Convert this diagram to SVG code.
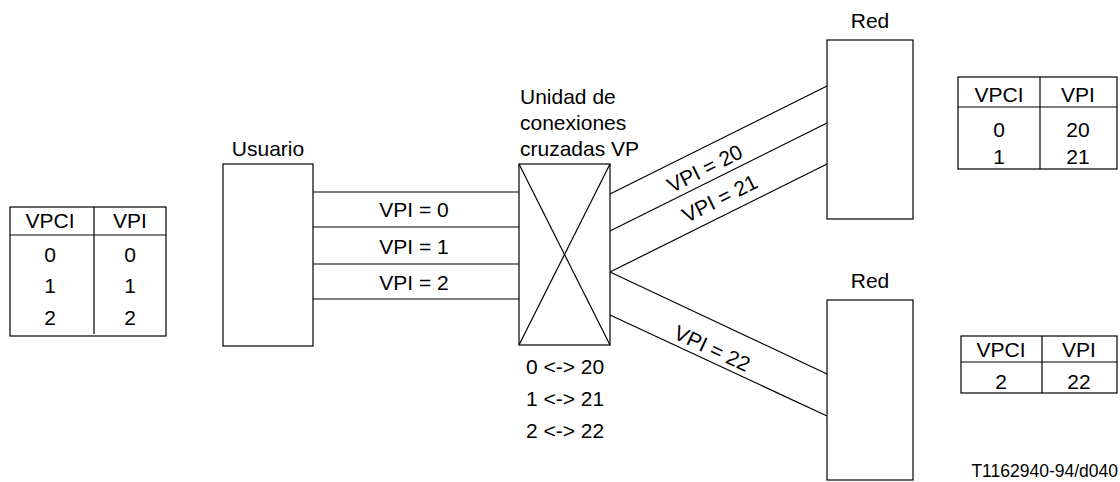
<svg xmlns="http://www.w3.org/2000/svg" width="1120" height="482" viewBox="0 0 1120 482">
<style>
text{font-family:"Liberation Sans",Arial,sans-serif;font-size:21px;fill:#000}
.m{text-anchor:middle}
.box{fill:#fff;stroke:#000;stroke-width:1.2}
.ln{stroke:#000;stroke-width:1.2;fill:none}
</style>
<rect width="1120" height="482" fill="#fff"/>
<g id="connectors">
<line class="ln" x1="313" y1="192" x2="519" y2="192"/>
<line class="ln" x1="313" y1="227" x2="519" y2="227"/>
<line class="ln" x1="313" y1="264" x2="519" y2="264"/>
<line class="ln" x1="313" y1="299" x2="519" y2="299"/>
<line class="ln" x1="610" y1="194" x2="827" y2="86"/>
<line class="ln" x1="610" y1="231" x2="827" y2="123"/>
<line class="ln" x1="610" y1="272" x2="827" y2="164"/>
<line class="ln" x1="610" y1="272" x2="827" y2="374"/>
<line class="ln" x1="610" y1="315" x2="827" y2="416"/>
<text class="m" x="414" y="217">VPI = 0</text>
<text class="m" x="414" y="254">VPI = 1</text>
<text class="m" x="414" y="290">VPI = 2</text>
<text class="m" transform="translate(708,175) rotate(-26.57)">VPI = 20</text>
<text class="m" transform="translate(723,205) rotate(-26.57)">VPI = 21</text>
<text class="m" transform="translate(709,355) rotate(25)">VPI = 22</text>
</g>
<g id="table-user">
<rect class="box" x="10" y="207" width="156" height="129"/>
<line class="ln" x1="10" y1="235" x2="166" y2="235"/>
<line class="ln" x1="94" y1="207" x2="94" y2="334"/>
<text class="m" x="50" y="228">VPCI</text>
<text class="m" x="130" y="228">VPI</text>
<text class="m" x="50" y="262">0</text><text class="m" x="130" y="262">0</text>
<text class="m" x="50" y="293">1</text><text class="m" x="130" y="293">1</text>
<text class="m" x="50" y="325">2</text><text class="m" x="130" y="325">2</text>
</g>
<g id="usuario">
<rect class="box" x="223" y="164" width="90" height="182"/>
<text class="m" x="268" y="156">Usuario</text>
</g>
<g id="cross-connect">
<rect class="box" x="519" y="164" width="91" height="181"/>
<line class="ln" x1="519" y1="164" x2="610" y2="345"/>
<line class="ln" x1="610" y1="164" x2="519" y2="345"/>
<text x="520" y="104">Unidad de</text>
<text x="520" y="130">conexiones</text>
<text x="520" y="156">cruzadas VP</text>
<text class="m" x="565" y="374">0 &lt;-&gt; 20</text>
<text class="m" x="565" y="406">1 &lt;-&gt; 21</text>
<text class="m" x="565" y="438">2 &lt;-&gt; 22</text>
</g>
<g id="red-top">
<rect class="box" x="827" y="40" width="86" height="179"/>
<text class="m" x="870" y="28">Red</text>
</g>
<g id="red-bottom">
<rect class="box" x="827" y="300" width="86" height="180"/>
<text class="m" x="870" y="288">Red</text>
</g>
<g id="table-red-top">
<rect class="box" x="958" y="77" width="159" height="92"/>
<line class="ln" x1="958" y1="107" x2="1117" y2="107"/>
<line class="ln" x1="1040" y1="77" x2="1040" y2="169"/>
<text class="m" x="999" y="102">VPCI</text>
<text class="m" x="1078" y="102">VPI</text>
<text class="m" x="999" y="137">0</text><text class="m" x="1078" y="137">20</text>
<text class="m" x="999" y="164">1</text><text class="m" x="1078" y="164">21</text>
</g>
<g id="table-red-bottom">
<rect class="box" x="961" y="336" width="156" height="57"/>
<line class="ln" x1="961" y1="362" x2="1117" y2="362"/>
<line class="ln" x1="1042" y1="336" x2="1042" y2="393"/>
<text class="m" x="1001" y="357">VPCI</text>
<text class="m" x="1079" y="357">VPI</text>
<text class="m" x="1001" y="389">2</text><text class="m" x="1079" y="389">22</text>
</g>
<text x="1118" y="477" style="text-anchor:end;font-size:17.5px">T1162940-94/d040</text>
</svg>
